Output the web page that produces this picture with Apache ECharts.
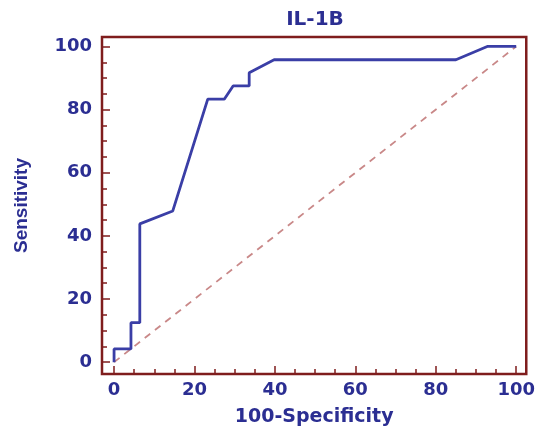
<!DOCTYPE html>
<html>
<head>
<meta charset="utf-8">
<script src="https://cdn.jsdelivr.net/npm/echarts@6/dist/echarts.min.js"></script>
<style>html,body{margin:0;padding:0;background:#fff}#c{width:538px;height:432px}</style>
</head>
<body>
<div id="c"></div>
<script>
// ROC curve for IL-1B
var specComplement = [0, 0, 4.2, 4.2, 6.4, 6.4, 14.6, 23.3, 27.4, 29.6, 33.6, 33.6, 39.8, 85, 92.8, 100];
var sensitivity    = [0, 4.2, 4.2, 12.5, 12.5, 43.8, 47.9, 83.3, 83.3, 87.5, 87.5, 91.7, 95.8, 95.8, 100, 100];
var refX = [0, 100];
var refY = [0, 100];
var majorTicks = [0, 20, 40, 60, 80, 100];
var minorTicks = [0, 5, 10, 15, 20, 25, 30, 35, 40, 45, 50, 55, 60, 65, 70, 75, 80, 85, 90, 95, 100];

var textColor = '#2b2e92';
var frameColor = '#7f1d1d';
var lineColor = '#3a3ea6';
var refColor = '#c98888';

var rocData = specComplement.map(function (x, i) { return [x, sensitivity[i]]; });
var refData = refX.map(function (x, i) { return [x, refY[i]]; });

var chart = echarts.init(document.getElementById('c'), null, {renderer: 'canvas'});
var labelFont = {color: textColor, fontFamily: 'DejaVu Sans', fontWeight: 'bold', fontSize: 18};

function xAx(major) {
  return {
    type: 'value', min: -3, max: 102.5, position: 'bottom',
    axisLine: {show: false, onZero: false},
    splitLine: {show: false},
    axisTick: {show: true, inside: true, length: major ? 8 : 5, customValues: major ? majorTicks : minorTicks,
               lineStyle: {color: frameColor, width: 1.5}},
    axisLabel: major ? Object.assign({show: true, customValues: majorTicks, margin: 7}, labelFont) : {show: false},
    name: major ? '100-Specificity' : '',
    nameLocation: 'middle', nameGap: 34,
    nameTextStyle: {color: textColor, fontFamily: 'DejaVu Sans', fontWeight: 'bold', fontSize: 19}
  };
}
function yAx(major) {
  return {
    type: 'value', min: -3.75, max: 103, position: 'left',
    axisLine: {show: false, onZero: false},
    splitLine: {show: false},
    axisTick: {show: true, inside: true, length: major ? 8 : 5, customValues: major ? majorTicks : minorTicks,
               lineStyle: {color: frameColor, width: 1.5}},
    axisLabel: major ? Object.assign({show: true, customValues: majorTicks, margin: 10}, labelFont) : {show: false},
    name: major ? 'Sensitivity' : '',
    nameLocation: 'middle', nameGap: 71, nameRotate: 90,
    nameTextStyle: {color: textColor, fontFamily: 'Liberation Sans', fontWeight: 'bold', fontSize: 19}
  };
}

chart.setOption({
  animation: false,
  backgroundColor: '#ffffff',
  grid: {left: 102, top: 37, right: 9, bottom: 54, show: true, borderColor: frameColor, borderWidth: 2.5, backgroundColor: 'transparent'},
  graphic: [{
    type: 'text', x: 315, y: 20,
    style: {text: 'IL-1B', fill: textColor, font: 'bold 20px "DejaVu Sans"', align: 'center', verticalAlign: 'middle'}
  }],
  xAxis: [xAx(true), xAx(false)],
  yAxis: [yAx(true), yAx(false)],
  series: [
    {type: 'line', data: refData, xAxisIndex: 0, yAxisIndex: 0, symbol: 'none',
     lineStyle: {color: refColor, width: 1.8, type: [7, 6]}, silent: true},
    {type: 'line', data: rocData, xAxisIndex: 0, yAxisIndex: 0, symbol: 'none',
     lineStyle: {color: lineColor, width: 2.8}, silent: true}
  ]
});
</script>
</body>
</html>
